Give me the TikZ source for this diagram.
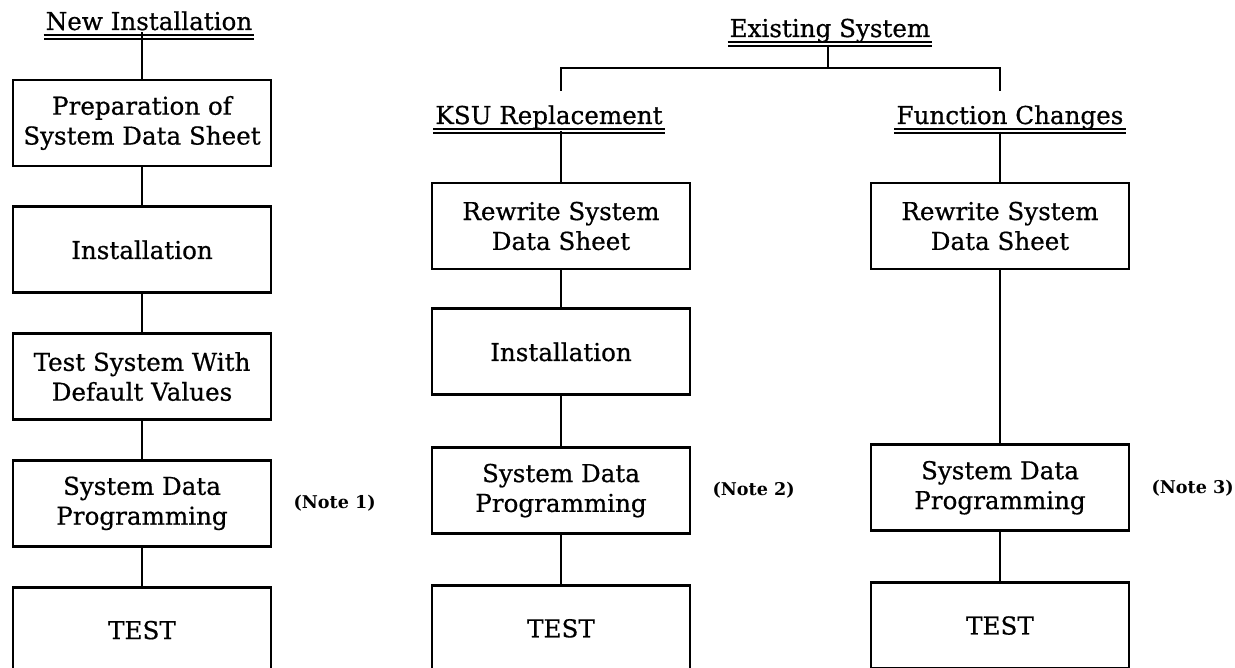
\documentclass[tikz,border=0pt]{standalone}
\usepackage{fontspec}
\setmainfont{DejaVu Serif}[UprightFeatures={FakeBold=0.6}]
\usepackage{tikz}
\usetikzlibrary{positioning}

\begin{document}
\begin{tikzpicture}[x=0.02cm, y=-0.02cm, node distance=0.76cm, every node/.style={font=\fontsize{14}{17}\selectfont}, align=center]
  % Styles
  \tikzset{
    block/.style={rectangle, draw, line width=1.6pt, minimum width=5.16cm, minimum height=1.72cm, inner sep=2pt},
    heading/.style={anchor=base, inner sep=1pt},
    uline/.style={double, line width=0.9pt, double distance=1.1pt},
    note/.style={font=\fontsize{10}{12}\selectfont\bfseries},
    link/.style={line width=1.3pt}
  }
  \useasboundingbox (0,0) rectangle (1235,668);

  % New installation
  \node[heading] (newt) at (149,30) {New Installation};
  \node[block] (prep) at (142,123) {Preparation of\\System Data Sheet};
  \node[block, below=of prep] (inst) {Installation};
  \node[block, below=of inst] (deft) {Test System With\\Default Values};
  \node[block, below=of deft] (prog) {System Data\\Programming};
  \node[block, below=of prog] (test) {TEST};
  \node[note, right=0.3cm of prog] (note1) {(Note 1)};

  % Existing system
  \node[heading] (exist) at (830,37) {Existing System};
  \coordinate (bar) at (828,68);
  \coordinate (ldrop) at (561,91);
  \coordinate (rdrop) at (1000,91);

  \node[heading] (ksu) at (549,124) {KSU Replacement};
  \node[block] (krew) at (561,226) {Rewrite System\\Data Sheet};
  \node[block, below=0.74cm of krew] (kins) {Installation};
  \node[block, below=1cm of kins] (kprog) {System Data\\Programming};
  \node[block, below=0.98cm of kprog] (ktest) {TEST};
  \node[note, right=0.3cm of kprog] (note2) {(Note 2)};

  \node[heading] (func) at (1010,124) {Function Changes};
  \node[block] (frew) at (1000,226) {Rewrite System\\Data Sheet};
  \node[block, below=3.46cm of frew] (fprog) {System Data\\Programming};
  \node[block, below=0.98cm of fprog] (ftest) {TEST};
  \node[note, right=0.3cm of fprog] (note3) {(Note 3)};

  % Underlines
  \foreach \t in {newt, exist, ksu, func}
    \draw[uline] ([yshift=-4pt]\t.base west) -- ([yshift=-4pt]\t.base east);

  % Lines
  \draw[link] (prep.north |- newt.south) -- (prep);
  \draw[link] (prep) -- (inst);
  \draw[link] (inst) -- (deft);
  \draw[link] (deft) -- (prog);
  \draw[link] (prog) -- (test);

  \draw[link] (bar |- exist.south) -- (bar);
  \draw[link] (ldrop) |- (bar) -| (rdrop);

  \draw[link] (krew.north |- ksu.south) -- (krew);
  \draw[link] (krew) -- (kins);
  \draw[link] (kins) -- (kprog);
  \draw[link] (kprog) -- (ktest);

  \draw[link] (frew.north |- func.south) -- (frew);
  \draw[link] (frew) -- (fprog);
  \draw[link] (fprog) -- (ftest);
\end{tikzpicture}
\end{document}
